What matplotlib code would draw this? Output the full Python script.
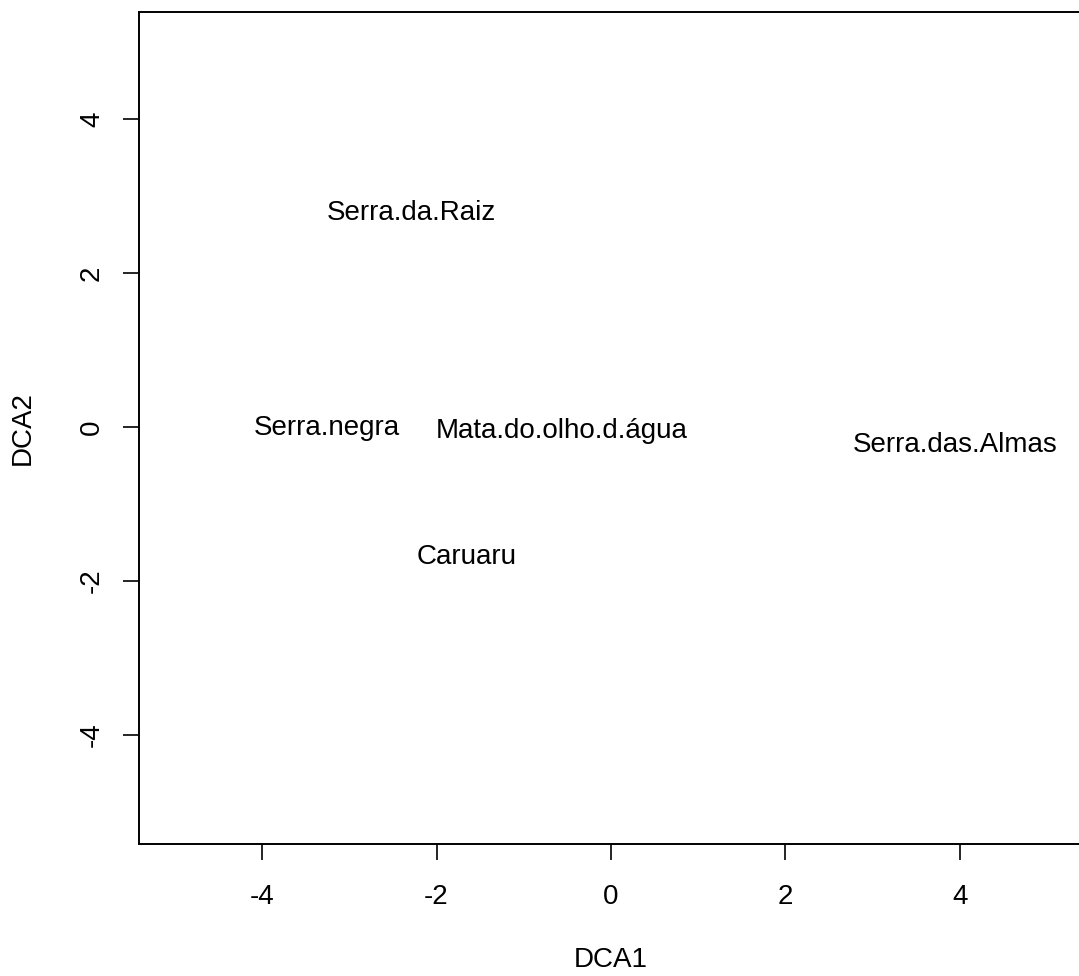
import matplotlib.pyplot as plt

plt.rcParams['font.family'] = ['Liberation Sans', 'DejaVu Sans']

# site scores from the DCA (axis 1, axis 2)
sites = ["Serra.da.Raiz", "Serra.negra", "Mata.do.olho.d.água", "Serra.das.Almas", "Caruaru"]
dca1 = [-2.29, -3.26, -0.57, 3.95, -1.66]
dca2 = [2.78, -0.01, -0.05, -0.23, -1.69]

W, H = 1079, 976
fig = plt.figure(figsize=(W / 100, H / 100), dpi=100)
left, right, top, bottom = 139, 1083, 12, 844
ax = fig.add_axes([left / W, 1 - bottom / H, (right - left) / W, (bottom - top) / H])

for name, x, y in zip(sites, dca1, dca2):
    ax.text(x, y, name, ha="center", va="center", fontsize=20)

ax.set_xlim(-5.41, 5.41)
ax.set_ylim(-5.42, 5.39)
ax.set_xticks([-4, -2, 0, 2, 4])
ax.set_yticks([-4, -2, 0, 2, 4])
ax.set_xticklabels(["-4", "-2", "0", "2", "4"])
ax.set_yticklabels(["-4", "-2", "0", "2", "4"], rotation=90, va="center")
ax.tick_params(length=11.5, width=1.2, labelsize=20)
ax.tick_params(axis="x", pad=17)
ax.tick_params(axis="y", pad=13)
for s in ax.spines.values():
    s.set_linewidth(1.4)
ax.set_xlabel("DCA1", fontsize=20, labelpad=27)
ax.set_ylabel("DCA2", fontsize=20, labelpad=31)

fig.savefig("out.png", dpi=100)
